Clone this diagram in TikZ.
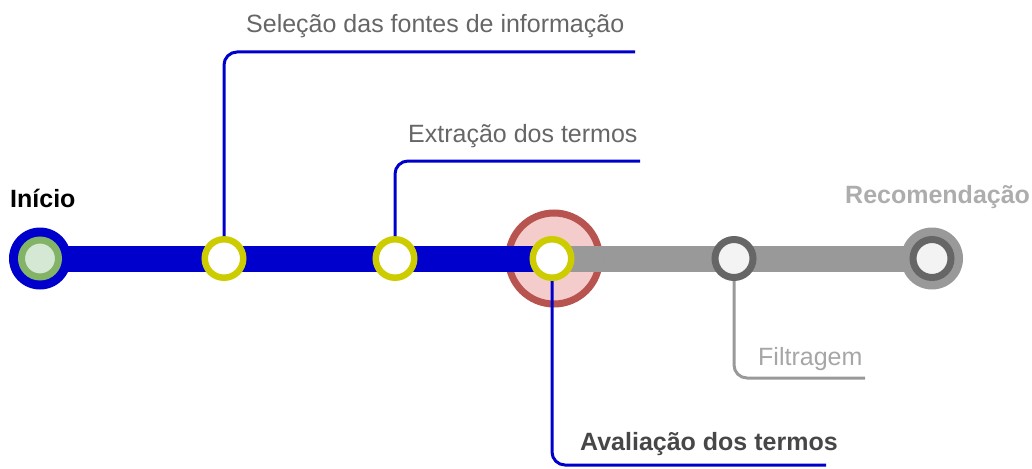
\documentclass[tikz,border=0pt]{standalone}
\usepackage{fontspec}
\setmainfont{Liberation Sans}
\usepackage{tikz}
\usetikzlibrary{calc}

\definecolor{lineblue}{HTML}{0000CC}
\definecolor{ringyellow}{HTML}{CCCC00}
\definecolor{ringred}{HTML}{B85450}
\definecolor{fillpink}{HTML}{F4CCCC}
\definecolor{ringgreen}{HTML}{82B366}
\definecolor{fillgreen}{HTML}{D5E8D4}
\definecolor{linegray}{HTML}{999999}
\definecolor{darkgray}{HTML}{666666}
\definecolor{lightfill}{HTML}{F3F3F3}

\tikzset{
    station/.style={circle, draw=ringyellow, fill=white, line width=6.5pt, minimum size=38.5pt, inner sep=0pt},
    grayst/.style={circle, draw=darkgray, fill=lightfill, line width=7pt, minimum size=38pt, inner sep=0pt},
    disc/.style={circle, inner sep=0pt, minimum size=#1},
    label/.style={anchor=base west, inner sep=0pt, font=\fontsize{25}{30}\selectfont},
    callout/.style={line width=3pt, rounded corners=13pt}
}

\begin{document}
\begin{tikzpicture}[x=1pt, y=-1pt]
    \useasboundingbox (0,0) rectangle (1032,468);

    % Positions along the line
    \coordinate (pInicio) at (40,258.5);
    \coordinate (pSelecao) at (224,258.5);
    \coordinate (pExtracao) at (395,258.5);
    \coordinate (pAval) at (552,258.5);
    \coordinate (pFiltro) at (734,258.5);
    \coordinate (pRecom) at (932,258.5);

    % Draw the thick bars
    \draw[lineblue, line width=26pt] (pInicio) -- (pAval);
    \draw[linegray, line width=26pt] (pAval) -- (pRecom);

    % Start and end stations
    \node[disc=62pt, fill=lineblue] (inicioOut) at (pInicio) {};
    \node[disc=37pt, draw=ringgreen, fill=fillgreen, line width=7pt] (inicio) at (pInicio) {};
    \node[disc=62pt, fill=linegray] (recomOut) at (pRecom) {};
    \node[grayst] (recom) at (pRecom) {};

    % Current step, the bars run over it
    \node[disc=91pt, draw=ringred, fill=fillpink, line width=7pt] (avalRing) at ($(pAval)+(2,0)$) {};
    \draw[lineblue, line width=26pt] (avalRing.west |- pAval) -- (pAval);
    \draw[linegray, line width=26pt] (pAval) -- (avalRing.east |- pAval);

    % Stations
    \node[station] (selecao) at (pSelecao) {};
    \node[station] (extracao) at (pExtracao) {};
    \node[station] (aval) at (pAval) {};
    \node[grayst] (filtro) at (pFiltro) {};

    % Callout lines
    \coordinate (selEnd) at (635,52);
    \coordinate (extEnd) at (640,161);
    \coordinate (avalEnd) at (826,465);
    \coordinate (filEnd) at (865,378);
    \draw[callout, lineblue] (selecao.north) |- (selEnd);
    \draw[callout, lineblue] (extracao.north) |- (extEnd);
    \draw[callout, lineblue] (aval.south) |- (avalEnd);
    \draw[callout, linegray] (filtro.south) |- (filEnd);

    % Add labels
    \node[label, font=\fontsize{25}{30}\selectfont\bfseries, text=black] (tInicio) at (10,207) {Início};
    \node[label, text=darkgray] (tSelecao) at (246,33) {Seleção das fontes de informação};
    \node[label, text=darkgray] (tExtracao) at (408,142) {Extração dos termos};
    \node[label, font=\fontsize{25}{30}\selectfont\bfseries, text=black!72] (tAval) at (580,450) {Avaliação dos termos};
    \node[label, text=black!35] (tFiltro) at (758,365) {Filtragem};
    \node[label, font=\fontsize{25}{30}\selectfont\bfseries, text=black!32] (tRecom) at (845,203) {Recomendação};
\end{tikzpicture}
\end{document}
